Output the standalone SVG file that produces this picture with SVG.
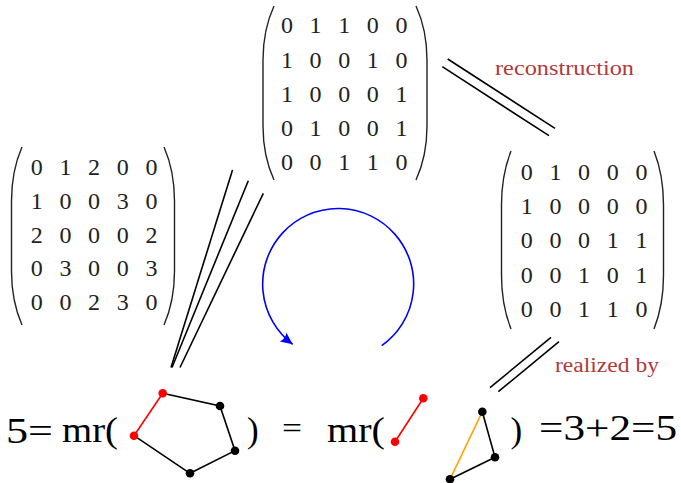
<svg xmlns="http://www.w3.org/2000/svg" width="681" height="483" viewBox="0 0 681 483">
<style>
.m{font-family:"Liberation Serif","DejaVu Serif",serif;font-size:24px;fill:#222;text-anchor:middle}
.par{fill:none;stroke:#222;stroke-width:1.4}
.lbl{font-family:"Liberation Serif","DejaVu Serif",serif;font-size:20px;fill:#b03a3a}
.f{font-family:"Liberation Serif","DejaVu Serif",serif;font-size:35px;fill:#000}
.ln{stroke:#000;stroke-width:1.6;fill:none}
.e{stroke:#000;stroke-width:1.6}
.er{stroke:#f00;stroke-width:1.6}
.eo{stroke:#ffa500;stroke-width:1.6}
.v{fill:#000}
.vr{fill:#f00}
</style>
<defs>
<marker id="ah" markerUnits="userSpaceOnUse" markerWidth="16" markerHeight="14" viewBox="-13 -7 16 14" refX="0" refY="0" orient="auto">
<path d="M0,0 L-12,-5.5 Q-9,0 -12,5.5 Z" fill="#00f"/>
</marker>
</defs>

<g id="matrix-top">
<path class="par" d="M274,6 Q263,30 263,60 L263,126 Q263,156 274,180"/>
<path class="par" d="M416,6 Q427,30 427,60 L427,126 Q427,156 416,180"/>
<text class="m" y="33.3"><tspan x="287">0</tspan><tspan x="315.6">1</tspan><tspan x="344.2">1</tspan><tspan x="372.8">0</tspan><tspan x="401.4">0</tspan></text>
<text class="m" y="67.5"><tspan x="287">1</tspan><tspan x="315.6">0</tspan><tspan x="344.2">0</tspan><tspan x="372.8">1</tspan><tspan x="401.4">0</tspan></text>
<text class="m" y="101.7"><tspan x="287">1</tspan><tspan x="315.6">0</tspan><tspan x="344.2">0</tspan><tspan x="372.8">0</tspan><tspan x="401.4">1</tspan></text>
<text class="m" y="135.9"><tspan x="287">0</tspan><tspan x="315.6">1</tspan><tspan x="344.2">0</tspan><tspan x="372.8">0</tspan><tspan x="401.4">1</tspan></text>
<text class="m" y="170"><tspan x="287">0</tspan><tspan x="315.6">0</tspan><tspan x="344.2">1</tspan><tspan x="372.8">1</tspan><tspan x="401.4">0</tspan></text>
</g>

<g id="matrix-left">
<path class="par" d="M22,147 Q11.5,171 11.5,201 L11.5,271 Q11.5,301 22,325"/>
<path class="par" d="M164,147 Q174.5,171 174.5,201 L174.5,271 Q174.5,301 164,325"/>
<text class="m" y="175"><tspan x="36.7">0</tspan><tspan x="65.4">1</tspan><tspan x="94.1">2</tspan><tspan x="122.8">0</tspan><tspan x="151.5">0</tspan></text>
<text class="m" y="208.7"><tspan x="36.7">1</tspan><tspan x="65.4">0</tspan><tspan x="94.1">0</tspan><tspan x="122.8">3</tspan><tspan x="151.5">0</tspan></text>
<text class="m" y="242.5"><tspan x="36.7">2</tspan><tspan x="65.4">0</tspan><tspan x="94.1">0</tspan><tspan x="122.8">0</tspan><tspan x="151.5">2</tspan></text>
<text class="m" y="276.2"><tspan x="36.7">0</tspan><tspan x="65.4">3</tspan><tspan x="94.1">0</tspan><tspan x="122.8">0</tspan><tspan x="151.5">3</tspan></text>
<text class="m" y="310"><tspan x="36.7">0</tspan><tspan x="65.4">0</tspan><tspan x="94.1">2</tspan><tspan x="122.8">3</tspan><tspan x="151.5">0</tspan></text>
</g>

<g id="matrix-right">
<path class="par" d="M511,151 Q501.5,175 501.5,205 L501.5,275 Q501.5,305 511,329"/>
<path class="par" d="M654,151 Q663.5,175 663.5,205 L663.5,275 Q663.5,305 654,329"/>
<text class="m" y="180"><tspan x="526.7">0</tspan><tspan x="555.4">1</tspan><tspan x="584.1">0</tspan><tspan x="612.8">0</tspan><tspan x="641.5">0</tspan></text>
<text class="m" y="214.2"><tspan x="526.7">1</tspan><tspan x="555.4">0</tspan><tspan x="584.1">0</tspan><tspan x="612.8">0</tspan><tspan x="641.5">0</tspan></text>
<text class="m" y="248.4"><tspan x="526.7">0</tspan><tspan x="555.4">0</tspan><tspan x="584.1">0</tspan><tspan x="612.8">1</tspan><tspan x="641.5">1</tspan></text>
<text class="m" y="282.6"><tspan x="526.7">0</tspan><tspan x="555.4">0</tspan><tspan x="584.1">1</tspan><tspan x="612.8">0</tspan><tspan x="641.5">1</tspan></text>
<text class="m" y="316.8"><tspan x="526.7">0</tspan><tspan x="555.4">0</tspan><tspan x="584.1">1</tspan><tspan x="612.8">1</tspan><tspan x="641.5">0</tspan></text>
</g>

<g id="label-reconstruction">
<text class="lbl" x="495" y="75" textLength="139" lengthAdjust="spacingAndGlyphs">reconstruction</text>
</g>
<g id="label-realized">
<text class="lbl" x="555" y="371.7" textLength="104" lengthAdjust="spacingAndGlyphs">realized by</text>
</g>

<g id="connectors">
<line class="ln" x1="447.7" y1="59" x2="555" y2="128.3"/>
<line class="ln" x1="442.3" y1="66.7" x2="549" y2="135.7"/>
<line class="ln" x1="490" y1="387.7" x2="551" y2="337.3"/>
<line class="ln" x1="498.3" y1="391.7" x2="559" y2="341.7"/>
<line class="ln" x1="232.5" y1="170" x2="171" y2="367.5"/>
<line class="ln" x1="248.3" y1="180.7" x2="172" y2="367.5"/>
<line class="ln" x1="263.3" y1="193.3" x2="180" y2="367.5"/>
<path d="M381.7,345.7 A75.5,75.5 0 1 0 292.7,344.3" fill="none" stroke="#00f" stroke-width="1.6" marker-end="url(#ah)"/>
</g>

<g id="formula-left">
<text class="f" x="6" y="442.5" textLength="47" lengthAdjust="spacingAndGlyphs">5=</text>
<text class="f" x="62" y="442" textLength="56" lengthAdjust="spacingAndGlyphs">mr(</text>
<line class="er" x1="134" y1="435.7" x2="162.7" y2="393.3"/>
<polyline class="e" fill="none" points="162.7,393.3 220,406 235,450.7 190,473.3 134,435.7"/>
<circle class="vr" cx="134" cy="435.7" r="4.3"/>
<circle class="vr" cx="162.7" cy="393.3" r="4.3"/>
<circle class="v" cx="220" cy="406" r="4.3"/>
<circle class="v" cx="235" cy="450.7" r="4.3"/>
<circle class="v" cx="190" cy="473.3" r="4.3"/>
<text class="f" x="247" y="442">)</text>
<text class="f" x="282" y="438" textLength="20" lengthAdjust="spacingAndGlyphs" style="font-size:30px">=</text>
</g>

<g id="formula-right">
<text class="f" x="327" y="442" textLength="58" lengthAdjust="spacingAndGlyphs">mr(</text>
<line class="er" x1="395" y1="441.7" x2="423.3" y2="398.3"/>
<circle class="vr" cx="395" cy="441.7" r="4.3"/>
<circle class="vr" cx="423.3" cy="398.3" r="4.3"/>
<line class="eo" x1="450" y1="479.3" x2="482.3" y2="411.7"/>
<polyline class="e" fill="none" points="482.3,411.7 495,457.3 450,479.3"/>
<circle class="v" cx="482.3" cy="411.7" r="4.3"/>
<circle class="v" cx="495" cy="457.3" r="4.3"/>
<circle class="v" cx="450" cy="479.3" r="4.3"/>
<text class="f" x="510.5" y="442">)</text>
<text class="f" x="539" y="440" textLength="138" lengthAdjust="spacingAndGlyphs">=3+2=5</text>
</g>
</svg>
